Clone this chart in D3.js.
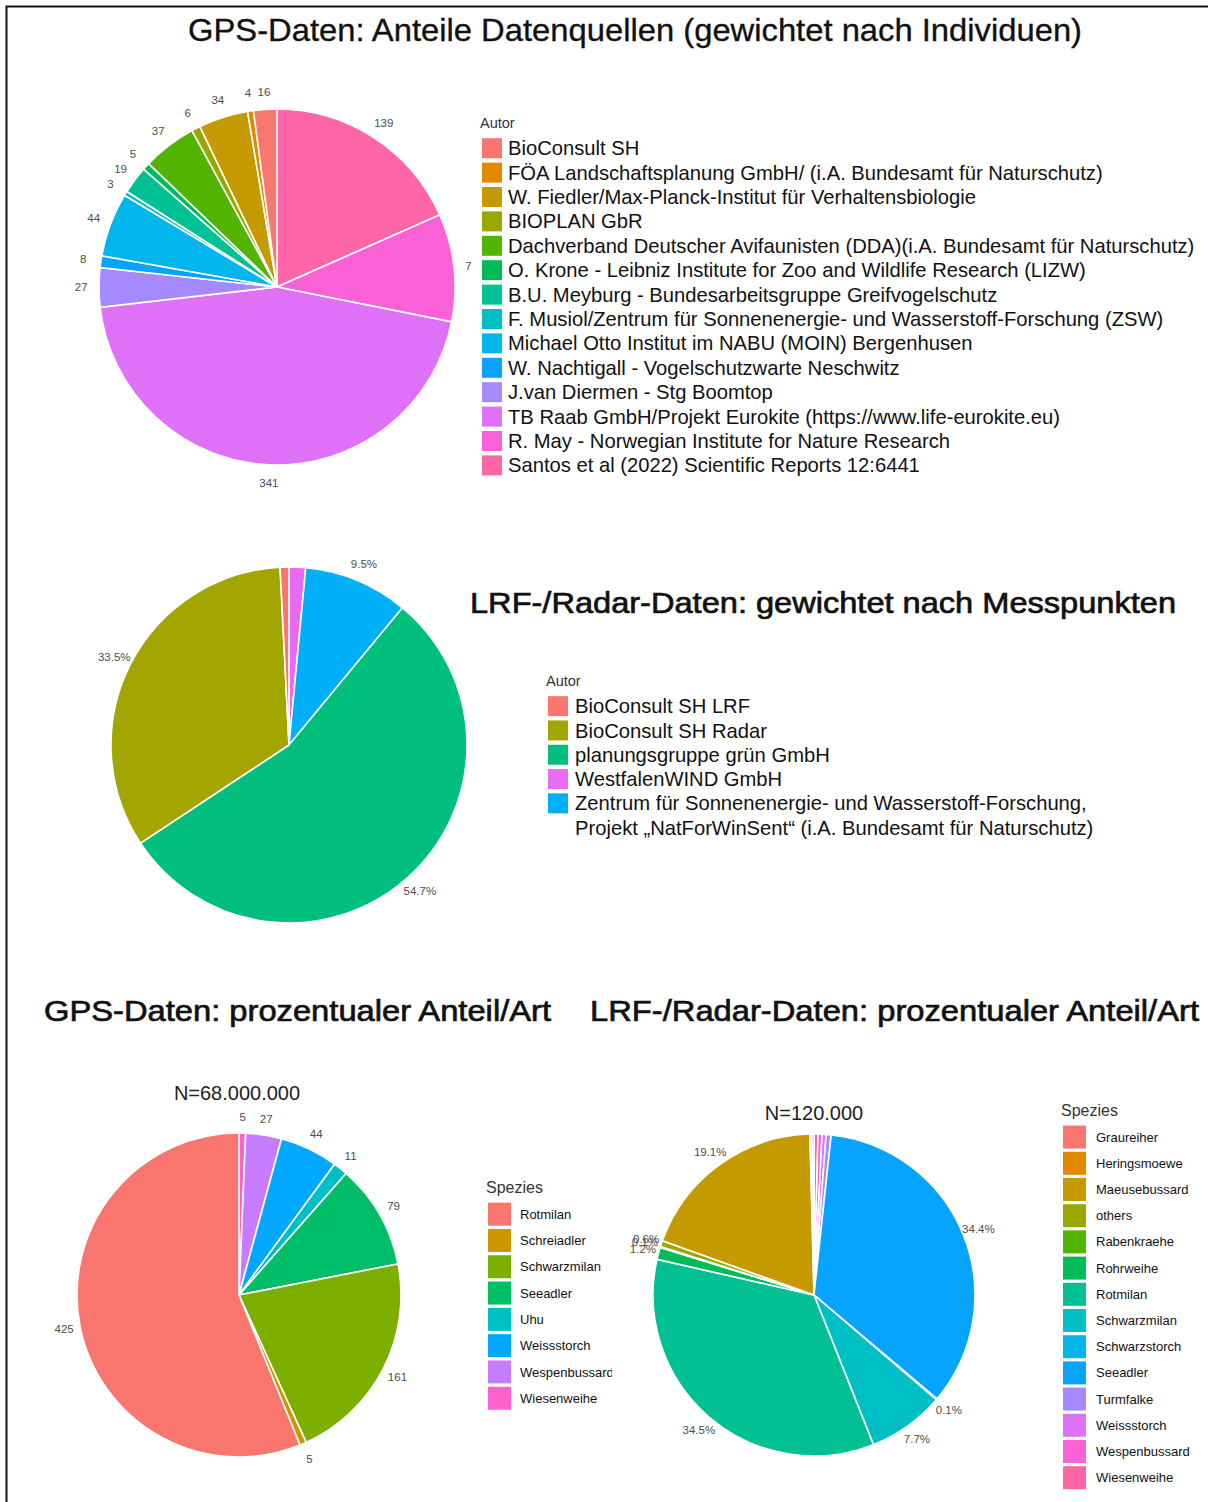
<!DOCTYPE html>
<html>
<head>
<meta charset="utf-8">
<script src="https://cdn.jsdelivr.net/npm/d3@7"></script>
<style>
  body { margin: 0; background: #fff; }
  svg text { font-family: "Liberation Sans", Arial, sans-serif; }
</style>
</head>
<body>
<svg id="chart" width="1208" height="1502"></svg>
<script>
// GPS: data sources weighted by individuals (legend order)
const gpsAuthors = [
  "BioConsult SH",
  "FÖA Landschaftsplanung GmbH/ (i.A. Bundesamt für Naturschutz)",
  "W. Fiedler/Max-Planck-Institut für Verhaltensbiologie",
  "BIOPLAN GbR",
  "Dachverband Deutscher Avifaunisten (DDA)(i.A. Bundesamt für Naturschutz)",
  "O. Krone - Leibniz Institute for Zoo and Wildlife Research (LIZW)",
  "B.U. Meyburg - Bundesarbeitsgruppe Greifvogelschutz",
  "F. Musiol/Zentrum für Sonnenenergie- und Wasserstoff-Forschung (ZSW)",
  "Michael Otto Institut im NABU (MOIN) Bergenhusen",
  "W. Nachtigall - Vogelschutzwarte Neschwitz",
  "J.van Diermen - Stg Boomtop",
  "TB Raab GmbH/Projekt Eurokite (https://www.life-eurokite.eu)",
  "R. May - Norwegian Institute for Nature Research",
  "Santos et al (2022) Scientific Reports 12:6441"
]
const gpsIndividuals = [16, 4, 34, 6, 37, 5, 19, 3, 44, 8, 27, 341, 74, 139]

// LRF / radar: weighted by measuring points (legend order)
const radarAuthors = [
  "BioConsult SH LRF",
  "BioConsult SH Radar",
  "planungsgruppe grün GmbH",
  "WestfalenWIND GmbH",
  "Zentrum für Sonnenenergie- und Wasserstoff-Forschung,|Projekt „NatForWinSent“ (i.A. Bundesamt für Naturschutz)"
]
const radarShare = [0.8, 33.5, 54.7, 1.5, 9.5]
const radarLabels = ["", "33.5%", "54.7%", "", "9.5%"]
const radarHue = [0, 1, 2, 4, 3]          // index into a 5-hue palette
const radarPieOrder = [3, 4, 2, 1, 0]     // clockwise from 12 o'clock

// GPS: share per species
const gpsSpecies = ["Rotmilan", "Schreiadler", "Schwarzmilan", "Seeadler", "Uhu",
  "Weissstorch", "Wespenbussard", "Wiesenweihe"]
const gpsSpeciesCount = [425, 5, 161, 79, 11, 44, 27, 5]

// LRF / radar: share per species
const radarSpecies = ["Graureiher", "Heringsmoewe", "Maeusebussard", "others", "Rabenkraehe",
  "Rohrweihe", "Rotmilan", "Schwarzmilan", "Schwarzstorch", "Seeadler", "Turmfalke",
  "Weissstorch", "Wespenbussard", "Wiesenweihe"]
const radarSpeciesShare = [0.2, 0.2, 19.1, 0.6, 0.1, 1.2, 34.5, 7.7, 0.1, 34.4, 0.5, 0.4, 0.4, 0.4]
const radarSpeciesLabels = ["", "", "19.1%", "0.6%", "0.1%", "1.2%", "34.5%", "7.7%", "0.1%", "34.4%", "", "", "", ""]

// ggplot-like hue palette (polarLUV, c=100, l=65)
function hclLuv(h, c, l) {
  const XN = 95.047, YN = 100, ZN = 108.883
  const uN = 4 * XN / (XN + 15 * YN + 3 * ZN)
  const vN = 9 * YN / (XN + 15 * YN + 3 * ZN)
  const r = h * Math.PI / 180
  const U = c * Math.cos(r), V = c * Math.sin(r)
  const Y = YN * (l > 7.999592 ? Math.pow((l + 16) / 116, 3) : l / 903.3)
  const u = U / (13 * l) + uN, v = V / (13 * l) + vN
  const X = 9 * Y * u / (4 * v)
  const Z = -X / 3 - 5 * Y + 3 * Y / v
  const g = t => {
    t = t <= 0.0031308 ? 12.92 * t : 1.055 * Math.pow(t, 1 / 2.4) - 0.055
    return Math.round(255 * Math.max(0, Math.min(1, t)))
  }
  return d3.rgb(
    g((3.240479 * X - 1.53715 * Y - 0.498535 * Z) / 100),
    g((-0.969256 * X + 1.875992 * Y + 0.041556 * Z) / 100),
    g((0.055648 * X - 0.204043 * Y + 1.057311 * Z) / 100)).formatHex()
}
function huePal(n) {
  return d3.range(n).map(i => hclLuv(15 + i * 360 / n, 100, 65))
}

const svg = d3.select("#chart")

// frame
svg.append("rect")
  .attr("x", 6.5).attr("y", 6.5).attr("width", 1260).attr("height", 1560)
  .attr("fill", "none").attr("stroke", "#111").attr("stroke-width", 2)

function title(text, x, y, size, width, stroke) {
  svg.append("text")
    .attr("x", x).attr("y", y)
    .attr("font-size", size)
    .attr("textLength", width).attr("lengthAdjust", "spacingAndGlyphs")
    .attr("fill", "#111").attr("stroke", "#111").attr("stroke-width", stroke)
    .text(text)
}

// draws one pie; items are given in clockwise order from 12 o'clock
function drawPie(cx, cy, r, items, clipX) {
  const g = svg.append("g").attr("transform", `translate(${cx},${cy})`)
  const pie = d3.pie().sort(null).value(d => d.value)
  const arc = d3.arc().innerRadius(0).outerRadius(r)
  const labelArc = d3.arc().innerRadius(r * 1.1).outerRadius(r * 1.1)
  const arcs = pie(items)

  g.selectAll("path").data(arcs).join("path")
    .attr("d", arc)
    .attr("fill", d => d.data.color)
    .attr("stroke", "#fff").attr("stroke-width", 1.6)

  let lg = g.append("g")
  if (clipX) {
    const id = "clip" + Math.round(cx) + Math.round(cy)
    svg.append("clipPath").attr("id", id)
      .append("rect").attr("x", -r * 2).attr("y", -r * 2).attr("width", clipX - cx + r * 2).attr("height", r * 4)
    lg.attr("clip-path", `url(#${id})`)
  }
  lg.selectAll("text").data(arcs.filter(d => d.data.label !== "")).join("text")
    .attr("transform", d => `translate(${labelArc.centroid(d)})`)
    .attr("text-anchor", "middle").attr("dy", "0.35em")
    .attr("font-size", 11.5).attr("fill", "#4d4d4d")
    .text(d => d.data.label)
}

function legend(x, y, heading, headSize, names, colors, step, key, fontSize, textX, clipX) {
  const g = svg.append("g").attr("transform", `translate(${x},${y})`)
  if (clipX) {
    const id = "lclip" + x
    svg.append("clipPath").attr("id", id)
      .append("rect").attr("x", -20).attr("y", -40).attr("width", clipX - x + 20).attr("height", 500)
    g.attr("clip-path", `url(#${id})`)
  }
  g.append("text").attr("x", -2).attr("y", 0)
    .attr("font-size", headSize).attr("fill", "#333").text(heading)
  names.forEach((name, i) => {
    const yy = step * 0.5 + 8 + i * step
    g.append("rect").attr("x", 0).attr("y", yy - key / 2)
      .attr("width", key).attr("height", key).attr("fill", colors[i])
    name.split("|").forEach((line, j) => {
      g.append("text").attr("x", textX).attr("y", yy + j * step)
        .attr("dy", "0.35em").attr("font-size", fontSize).attr("fill", "#111")
        .text(line)
    })
  })
}

// ---- panel 1: GPS sources
title("GPS-Daten: Anteile Datenquellen (gewichtet nach Individuen)", 188, 41, 32, 894, 0.35)
const pal14 = huePal(14)
const gpsItems = gpsAuthors.map((n, i) => ({ name: n, value: gpsIndividuals[i], label: String(gpsIndividuals[i]), color: pal14[i] })).reverse()
drawPie(277, 287, 178, gpsItems, 471)
legend(482, 128, "Autor", 14.5, gpsAuthors, pal14, 24.4, 20, 20.2, 26)

// ---- panel 2: LRF / radar sources
title("LRF-/Radar-Daten: gewichtet nach Messpunkten", 470, 613, 30, 706, 0.7)
const pal5 = huePal(5)
const radarColors = radarHue.map(i => pal5[i])
const radarItems = radarPieOrder.map(i => ({ name: radarAuthors[i], value: radarShare[i], label: radarLabels[i], color: radarColors[i] }))
drawPie(289, 745, 178, radarItems)
legend(548, 686, "Autor", 14.5, radarAuthors, radarColors, 24.3, 20, 20.2, 27)

// ---- panel 3: GPS species
title("GPS-Daten: prozentualer Anteil/Art", 44, 1021, 30, 507, 0.7)
svg.append("text").attr("x", 237).attr("y", 1100).attr("text-anchor", "middle")
  .attr("font-size", 20).attr("fill", "#222").text("N=68.000.000")
const pal8 = huePal(8)
const gpsSpeciesItems = gpsSpecies.map((n, i) => ({ name: n, value: gpsSpeciesCount[i], label: String(gpsSpeciesCount[i]), color: pal8[i] })).reverse()
drawPie(239, 1295, 162, gpsSpeciesItems)
legend(488, 1193, "Spezies", 16, gpsSpecies, pal8, 26.3, 23, 13, 32, 612)

// ---- panel 4: LRF / radar species
title("LRF-/Radar-Daten: prozentualer Anteil/Art", 590, 1021, 30, 609, 0.7)
svg.append("text").attr("x", 814).attr("y", 1120).attr("text-anchor", "middle")
  .attr("font-size", 20).attr("fill", "#222").text("N=120.000")
const radarSpeciesItems = radarSpecies.map((n, i) => ({ name: n, value: radarSpeciesShare[i], label: radarSpeciesLabels[i], color: pal14[i] })).reverse()
drawPie(814, 1295, 161, radarSpeciesItems)
legend(1063, 1116, "Spezies", 16, radarSpecies, pal14, 26.2, 23, 13, 33)
</script>
</body>
</html>
